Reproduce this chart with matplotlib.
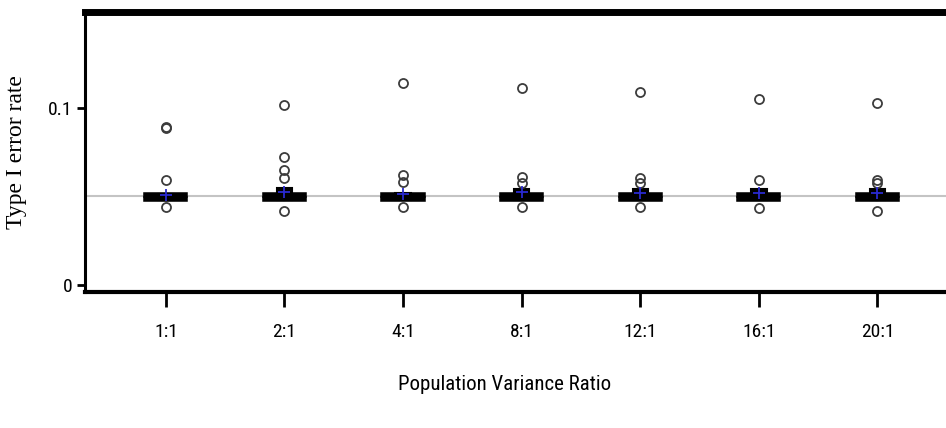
import matplotlib
matplotlib.use('Agg')
import matplotlib.pyplot as plt
from matplotlib import font_manager

# Type I error rates of the test under different population variance ratios
ratios = ['1:1', '2:1', '4:1', '8:1', '12:1', '16:1', '20:1']
medians = [0.0498, 0.0505, 0.0500, 0.0503, 0.0503, 0.0500, 0.0503]
q1 = [0.0482, 0.0480, 0.0482, 0.0481, 0.0481, 0.0480, 0.0481]
q3 = [0.0515, 0.0548, 0.0522, 0.0540, 0.0540, 0.0545, 0.0540]
whis_lo = [0.0487, 0.0487, 0.0487, 0.0487, 0.0487, 0.0487, 0.0487]
whis_hi = [0.0509, 0.0510, 0.0509, 0.0510, 0.0510, 0.0510, 0.0510]
means = [0.0510, 0.0525, 0.0515, 0.0525, 0.0522, 0.0522, 0.0522]
outliers = [
    [0.0885, 0.0890, 0.0593, 0.0443],
    [0.1017, 0.0725, 0.0650, 0.0603, 0.0418],
    [0.1140, 0.0621, 0.0584, 0.0443],
    [0.1110, 0.0610, 0.0575, 0.0443],
    [0.1090, 0.0603, 0.0575, 0.0443],
    [0.1050, 0.0593, 0.0433],
    [0.1026, 0.0593, 0.0575, 0.0418],
]
nominal_alpha = 0.05

# condensed sans for the axis texts if there is one
names = {f.name for f in font_manager.fontManager.ttflist}
narrow = dict(family='DejaVu Sans', stretch='condensed')
for cand in ['Liberation Sans Narrow', 'Arial Narrow', 'Roboto Condensed',
             'Open Sans Condensed']:
    if cand in names:
        narrow = dict(family=cand)
        break

stats = []
for i in range(len(ratios)):
    stats.append(dict(med=medians[i], q1=q1[i], q3=q3[i],
                      whislo=whis_lo[i], whishi=whis_hi[i],
                      mean=means[i], fliers=outliers[i], label=ratios[i]))

fig = plt.figure(figsize=(9.46, 4.28), dpi=100)
ax = fig.add_axes([85/946, 136/428, 911/946, 280/428])

ax.axhline(nominal_alpha, color='#c4c4c4', lw=1.5, zorder=1)

positions = list(range(1, len(ratios) + 1))
ax.bxp(stats, positions=positions, widths=0.13, capwidths=0.33,
       showmeans=True, patch_artist=True,
       boxprops=dict(facecolor='black', edgecolor='black', lw=1.5),
       medianprops=dict(color='black', lw=2),
       whiskerprops=dict(color='black', lw=1.5),
       capprops=dict(color='black', lw=4),
       meanprops=dict(marker='+', markeredgecolor='#2a2ad0',
                      markersize=8, markeredgewidth=1.3),
       flierprops=dict(marker='o', markerfacecolor='none',
                       markeredgecolor='#3c3c3c', markersize=6.5,
                       markeredgewidth=1.3),
       zorder=3)

ax.set_xlim(0.318, 8.0)
ax.set_ylim(-0.00395, 0.1542)

ax.set_yticks([0, 0.1])
ax.set_yticklabels(['0', '0.1'], fontsize=14, **narrow)
ax.set_xticks(positions)
ax.set_xticklabels(ratios, fontsize=14, **narrow)
ax.tick_params(axis='y', length=6, width=2, pad=3)
ax.tick_params(axis='x', length=11, width=2, pad=11)

ax.spines['right'].set_visible(False)
ax.spines['left'].set_linewidth(2.2)
ax.spines['bottom'].set_linewidth(3)
ax.spines['top'].set_linewidth(5)

ax.set_xlabel('Population Variance Ratio', fontsize=15, **narrow)
ax.xaxis.set_label_coords((505 - 85) / 911, -0.295)
fig.text(17/946, 1 - 152/428, 'Type I error rate', rotation=90,
         ha='center', va='center', family='Liberation Serif', fontsize=17)

fig.savefig('out.png', dpi=100)
